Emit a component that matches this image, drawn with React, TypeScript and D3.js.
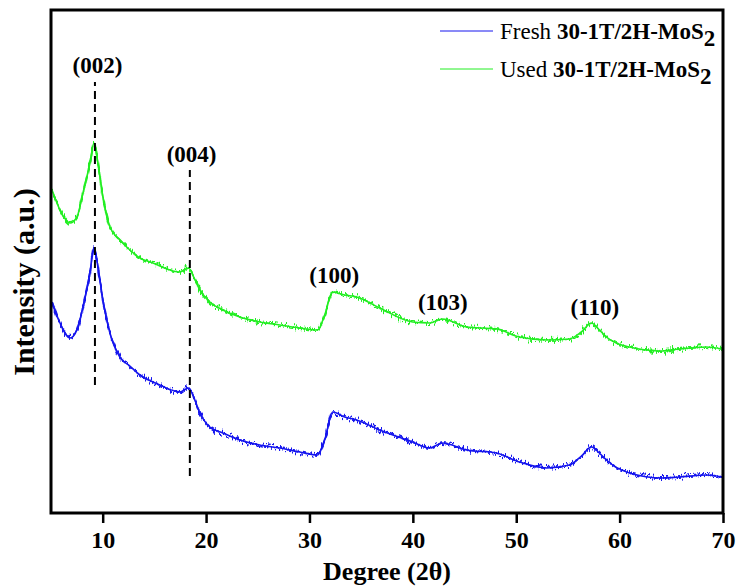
import React, { useEffect, useRef } from "react";
import * as d3 from "d3";

// 2θ positions
const degrees = [
  5.1, 5.87, 6.64, 6.84, 7.51, 8.09, 8.77, 9.15, 9.54, 10.02, 10.7, 11.66,
  12.63, 13.6, 14.86, 15.53, 17.46, 18.3, 18.8, 19.4, 20.36, 21.62, 23.26,
  25.19, 27.13, 29.06, 30.8, 31.47, 32.25, 33.41, 34.57, 36.79, 39.98, 41.62,
  42.87, 45.19, 48.09, 50.31, 52.92, 55.14, 56.3, 57.27, 58.04, 58.72, 60.94,
  64.13, 65.77, 68.38, 69.93,
];

// intensities (a.u., offset stacked)
const usedValues = [
  323, 303, 291, 290, 296, 320, 350, 370, 350, 316, 286, 273, 263, 255, 250,
  247, 241, 245, 236, 223, 211, 203, 196, 191, 188, 185, 183, 198, 221, 218,
  216, 205, 191, 190, 194, 186, 184, 176, 173, 174, 181, 190, 183, 176, 166,
  162, 164, 166, 164,
];
const freshValues = [
  211, 190, 176, 175, 183, 206, 240, 265, 246, 213, 180, 156, 147, 138, 131,
  128, 121, 125, 116, 100, 86, 80, 73, 68, 65, 61, 58, 73, 101, 96, 93, 83,
  71, 65, 70, 63, 60, 51, 45, 48, 57, 66, 60, 53, 40, 35, 36, 38, 36,
];

const xTicks = [10, 20, 30, 40, 50, 60, 70];

const peakLabels = ["(002)", "(004)", "(100)", "(103)", "(110)"];
const peakLabelX = [9.5, 18.6, 32.4, 42.9, 57.6];
const peakLabelY = [440, 351, 230, 203, 198];

// dashed reference lines: position, from, to
const dashX = [9.25, 18.43];
const dashFrom = [128, 37];
const dashTo = [431, 343];

const series = [
  { name: "Fresh", color: "#1414ee", values: freshValues },
  { name: "Used", color: "#22ee22", values: usedValues },
];

const FONT = "'Liberation Serif', 'Times New Roman', serif";

const App = () => {
  const svgRef = useRef<SVGSVGElement>(null);

  useEffect(() => {
    const svg = d3.select(svgRef.current);
    svg.selectAll("*").remove();

    const margin = { top: 10, right: 17, bottom: 75, left: 51 };
    const W = 740;
    const H = 588;
    const width = W - margin.left - margin.right;
    const height = H - margin.top - margin.bottom;

    const x = d3.scaleLinear().domain([5, 70]).range([0, width]);
    const y = d3.scaleLinear().domain([0, 503]).range([height, 0]);

    // noise-like jitter for the traces
    const defs = svg.append("defs");
    const f = defs
      .append("filter")
      .attr("id", "jitter")
      .attr("filterUnits", "userSpaceOnUse")
      .attr("x", 0)
      .attr("y", 0)
      .attr("width", W)
      .attr("height", H);
    f.append("feTurbulence")
      .attr("type", "fractalNoise")
      .attr("baseFrequency", "0.7 0.1")
      .attr("numOctaves", 1)
      .attr("seed", 3)
      .attr("result", "noise");
    f.append("feColorMatrix")
      .attr("in", "noise")
      .attr("type", "matrix")
      .attr("values", "0 0 0 0 0.5  0 1 0 0 0  0 0 1 0 0  0 0 0 0 1")
      .attr("result", "vnoise");
    f.append("feDisplacementMap")
      .attr("in", "SourceGraphic")
      .attr("in2", "vnoise")
      .attr("scale", 14)
      .attr("xChannelSelector", "R")
      .attr("yChannelSelector", "G");

    const g = svg
      .append("g")
      .attr("transform", `translate(${margin.left},${margin.top})`);

    const line = d3
      .line<number>()
      .x((d, i) => x(degrees[i]))
      .y((d) => y(d))
      .curve(d3.curveMonotoneX);

    series.forEach((s) => {
      g.append("path")
        .attr("d", line(s.values))
        .attr("fill", "none")
        .attr("stroke", s.color)
        .attr("stroke-width", 1.6);
      g.append("path")
        .attr("d", line(s.values))
        .attr("fill", "none")
        .attr("stroke", s.color)
        .attr("stroke-width", 2)
        .attr("filter", "url(#jitter)");
    });

    // dashed lines
    dashX.forEach((d, i) => {
      g.append("line")
        .attr("x1", x(d))
        .attr("x2", x(d))
        .attr("y1", y(dashFrom[i]))
        .attr("y2", y(dashTo[i]))
        .attr("stroke", "#000")
        .attr("stroke-width", 2)
        .attr("stroke-dasharray", "8,5");
    });

    // peak labels
    peakLabels.forEach((t, i) => {
      g.append("text")
        .attr("x", x(peakLabelX[i]))
        .attr("y", y(peakLabelY[i]))
        .attr("text-anchor", "middle")
        .attr("font-family", FONT)
        .attr("font-weight", "bold")
        .attr("font-size", "23px")
        .text(t);
    });

    // x axis
    const xAxis = g
      .append("g")
      .attr("transform", `translate(0,${height})`)
      .call(d3.axisBottom(x).tickValues(xTicks).tickSize(10).tickPadding(8));
    xAxis.select(".domain").remove();
    xAxis.selectAll(".tick line").attr("stroke-width", 2.5);
    xAxis
      .selectAll(".tick text")
      .attr("font-family", FONT)
      .attr("font-weight", "bold")
      .attr("font-size", "24px")
      .attr("fill", "#000");

    // frame
    g.append("rect")
      .attr("width", width)
      .attr("height", height)
      .attr("fill", "none")
      .attr("stroke", "#000")
      .attr("stroke-width", 3);

    // axis titles
    svg
      .append("text")
      .attr("x", margin.left + width / 2)
      .attr("y", 580)
      .attr("text-anchor", "middle")
      .attr("font-family", FONT)
      .attr("font-weight", "bold")
      .attr("font-size", "26px")
      .text("Degree (2θ)");

    svg
      .append("text")
      .attr("transform", `translate(34,282) rotate(-90)`)
      .attr("text-anchor", "middle")
      .attr("font-family", FONT)
      .attr("font-weight", "bold")
      .attr("font-size", "30px")
      .text("Intensity (a.u.)");

    // legend
    const legend = svg.append("g").attr("transform", "translate(440,31)");
    series.forEach((s, i) => {
      const row = legend.append("g").attr("transform", `translate(0,${i * 38})`);
      row
        .append("line")
        .attr("x1", 0)
        .attr("x2", 53)
        .attr("stroke", s.color)
        .attr("stroke-width", 1);
      const txt = row
        .append("text")
        .attr("x", 60)
        .attr("y", 8)
        .attr("font-family", FONT)
        .attr("font-size", "23px");
      txt.append("tspan").text(s.name + " ");
      txt.append("tspan").attr("font-weight", "bold").text("30-1T/2H-MoS");
      txt
        .append("tspan")
        .attr("font-weight", "bold")
        .attr("dy", 7)
        .text("2");
    });
  }, []);

  return (
    <svg
      ref={svgRef}
      width={740}
      height={588}
      style={{ position: "absolute", left: 0, top: 0, background: "#fff" }}
    ></svg>
  );
};

export default App;
